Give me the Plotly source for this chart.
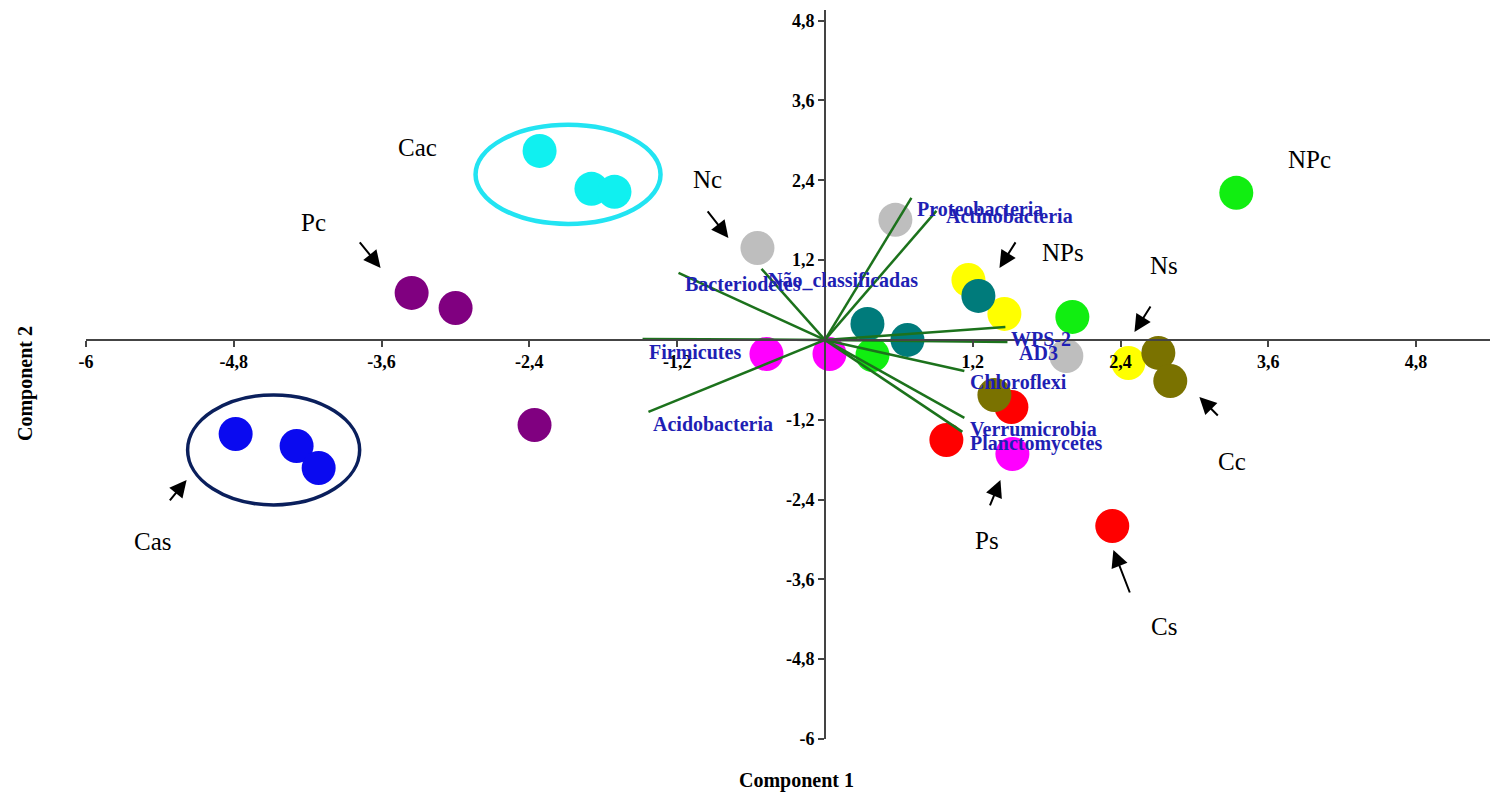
import plotly.graph_objects as go

# ---- data ----
group_names = ["Cac", "Pc", "Cas", "N", "P", "NP", "S1", "S2", "S3", "S4"]
group_colors = ["#10F0F0", "#800080", "#0A0AF0", "#BEBEBE", "#FF00FF",
                "#11EE11", "#FFFF00", "#007B7B", "#FF0000", "#7A7200"]
pts_x = [
    [-2.317, -1.896, -1.709],
    [-3.356, -2.999, -2.358],
    [-4.785, -4.290, -4.111],
    [-0.548, 0.572, 1.960],
    [-0.475, 0.037, 1.522],
    [0.386, 2.009, 3.340],
    [1.165, 1.457, 2.464],
    [0.345, 0.670, 1.246],
    [1.514, 0.986, 2.333],
    [1.376, 2.707, 2.804],
]
pts_y = [
    [2.842, 2.271, 2.226],
    [0.707, 0.481, -1.278],
    [-1.414, -1.594, -1.925],
    [1.383, 1.805, -0.241],
    [-0.211, -0.211, -1.714],
    [-0.226, 0.346, 2.211],
    [0.902, 0.391, -0.346],
    [0.241, 0.0, 0.662],
    [-1.008, -1.504, -2.797],
    [-0.827, -0.195, -0.617],
]

loading_names = ["Proteobacteria", "Actinobacteria", "Bacteriodetes", "Não_classificadas",
                 "WPS-2", "AD3", "Chloroflexi", "Verrumicrobia", "Planctomycetes",
                 "Firmicutes", "Acidobacteria"]
loading_x = [0.702, 0.905, -1.189, -0.515, 1.465, 1.482, 1.132, 1.132, 1.116, -1.481, -1.433]
loading_y = [2.135, 1.940, 1.008, 1.068, 0.195, -0.030, -0.466, -1.173, -1.383, 0.015, -1.083]

# group labels (text, x, y)
label_text = ["Cac", "Pc", "Nc", "NPs", "Ns", "NPc", "Cc", "Ps", "Cs", "Cas"]
label_x = [-3.308, -4.152, -0.954, 1.936, 2.756, 3.933, 3.308, 1.319, 2.756, -5.459]
label_y = [2.887, 1.759, 2.406, 1.308, 1.113, 2.707, -1.835, -3.023, -4.316, -3.038]

# arrows: tail -> head
arrow_tail_x = [-3.787, -0.962, 1.555, 2.651, 3.202, 1.335, 2.480, -5.329]
arrow_tail_y = [1.489, 1.955, 1.489, 0.526, -1.158, -2.511, -3.820, -2.436]
arrow_head_x = [-3.608, -0.784, 1.417, 2.513, 3.040, 1.425, 2.342, -5.183]
arrow_head_y = [1.083, 1.534, 1.083, 0.120, -0.857, -2.105, -3.158, -2.105]

tick_vals = [-6, -4.8, -3.6, -2.4, -1.2, 1.2, 2.4, 3.6, 4.8]
tick_text = ["-6", "-4,8", "-3,6", "-2,4", "-1,2", "1,2", "2,4", "3,6", "4,8"]
ytick_vals = [4.8, 3.6, 2.4, 1.2, -1.2, -2.4, -3.6, -4.8, -6]
ytick_text = ["4,8", "3,6", "2,4", "1,2", "-1,2", "-2,4", "-3,6", "-4,8", "-6"]

X_RANGE = [-6, 5.4]
Y_RANGE = [-6, 4.96]

SERIF = "Liberation Serif, Times New Roman, serif"
LOAD_COLOR = "#1F1FB4"
LINE_COLOR = "#1C721C"

fig = go.Figure()

for name, col, xs, ys in zip(group_names, group_colors, pts_x, pts_y):
    fig.add_trace(go.Scatter(x=xs, y=ys, mode="markers", name=name,
                             marker=dict(size=34, color=col, line=dict(width=0)),
                             hoverinfo="skip", showlegend=False))

lx, ly = [], []
for x, y in zip(loading_x, loading_y):
    lx += [0, x, None]
    ly += [0, y, None]
fig.add_trace(go.Scatter(x=lx, y=ly, mode="lines",
                         line=dict(color=LINE_COLOR, width=2.5),
                         hoverinfo="skip", showlegend=False))

annotations = []
shifts = {"Actinobacteria": (8, -5), "AD3": (10, -11), "Firmicutes": (4, -13),
          "WPS-2": (4, -12), "Planctomycetes": (6, -12), "Acidobacteria": (3, -12)}
for n, x, y in zip(loading_names, loading_x, loading_y):
    dx, dy = shifts.get(n, (4, -11))
    annotations.append(dict(x=x, y=y, text=n, showarrow=False, xanchor="left",
                            yanchor="middle", xshift=dx, yshift=dy,
                            font=dict(family=SERIF, size=20, color=LOAD_COLOR, weight="bold")))

for t, x, y in zip(label_text, label_x, label_y):
    annotations.append(dict(x=x, y=y, text=t, showarrow=False, xanchor="center", yanchor="middle",
                            font=dict(family=SERIF, size=25, color="black")))

for tx, ty, hx, hy in zip(arrow_tail_x, arrow_tail_y, arrow_head_x, arrow_head_y):
    annotations.append(dict(x=hx, y=hy, ax=tx, ay=ty, axref="x", ayref="y",
                            xref="x", yref="y", text="", showarrow=True,
                            arrowhead=2, arrowsize=1.7, arrowwidth=2,
                            arrowcolor="black", standoff=0, startstandoff=0))

W, H = 1490, 794
ML, MR, MT, MB = 86, 0, 10, 55
pw, ph = W - ML - MR, H - MT - MB

annotations.append(dict(xref="paper", yref="paper", x=(796 - ML) / pw, y=(H - MB - 780) / ph,
                        xanchor="center", yanchor="middle", text="Component 1", showarrow=False,
                        font=dict(family=SERIF, size=20, color="black", weight="bold")))
annotations.append(dict(xref="paper", yref="paper", x=(25 - ML) / pw, y=(H - MB - 383) / ph,
                        xanchor="center", yanchor="middle", text="Component 2", showarrow=False,
                        textangle=-90,
                        font=dict(family=SERIF, size=20, color="black", weight="bold")))

shapes = [
    dict(type="circle", xref="x", yref="y", x0=-2.837, x1=-1.335, y0=1.744, y1=3.233,
         line=dict(color="#22E4F2", width=4.5), layer="below"),
    dict(type="circle", xref="x", yref="y", x0=-5.175, x1=-3.778, y0=-2.481, y1=-0.827,
         line=dict(color="#0A1F5C", width=3.5), layer="below"),
]

xpos = (0 - Y_RANGE[0]) / (Y_RANGE[1] - Y_RANGE[0])
ypos = (0 - X_RANGE[0]) / (X_RANGE[1] - X_RANGE[0])
tickfont = dict(family=SERIF, size=18, color="black", weight="bold")

fig.update_layout(
    width=W, height=H,
    margin=dict(l=ML, r=MR, t=MT, b=MB),
    paper_bgcolor="white", plot_bgcolor="white",
    xaxis=dict(range=X_RANGE, anchor="free", position=xpos, showgrid=False, zeroline=False,
               showline=True, linecolor="#444444", linewidth=1.5,
               ticks="outside", ticklen=6, tickwidth=1.5, tickcolor="#444444",
               tickvals=tick_vals, ticktext=tick_text, tickfont=tickfont),
    yaxis=dict(range=Y_RANGE, anchor="free", position=ypos, showgrid=False, zeroline=False,
               showline=True, linecolor="#444444", linewidth=1.5,
               ticks="outside", ticklen=6, tickwidth=1.5, tickcolor="#444444",
               tickvals=ytick_vals, ticktext=ytick_text, tickfont=tickfont),
    annotations=annotations,
    shapes=shapes,
)

fig.write_html("out.html")
